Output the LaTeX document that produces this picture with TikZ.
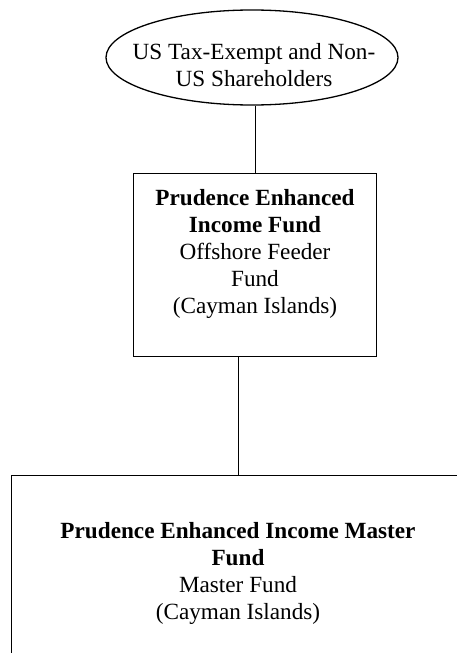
\documentclass[tikz,border=0pt]{standalone}
\usepackage{fontspec}
\setmainfont{Liberation Serif}
\usetikzlibrary{shapes.geometric}
\begin{document}
\begin{tikzpicture}[x=1pt,y=-1pt,
  ln/.style={line width=1.3pt,black},
  boxshape/.style={draw,ln,rectangle,inner sep=0pt,anchor=north west},
  txt/.style={align=center,inner sep=0pt,anchor=north,font=\fontsize{23.2}{27}\selectfont}]
\clip (0,0) rectangle (457,653);
\fill[white] (0,0) rectangle (457,653);
% ellipse
\node[draw,ln,ellipse,inner sep=0pt,minimum width=292pt,minimum height=95pt] (ell) at (252,57.5) {};
\node[txt] (elltxt) at (254,43.5) {US Tax-Exempt and Non-\\US Shareholders};
% middle box
\node[boxshape,minimum width=243pt,minimum height=183pt] (mid) at (133,173) {};
\node[txt] (midtxt) at (255,189.5) {\textbf{Prudence Enhanced}\\\textbf{Income Fund}\\Offshore Feeder\\Fund\\(Cayman Islands)};
% bottom box
\node[boxshape,minimum width=454pt,minimum height=260pt] (bot) at (11,475) {};
\node[txt] (bottxt) at (238,522.5) {\textbf{Prudence Enhanced Income Master}\\\textbf{Fund}\\Master Fund\\(Cayman Islands)};
% connectors
\draw[ln] (ell.south -| mid.north) -- (mid.north);
\draw[ln] (bot.north |- mid.south) -- (bot.north);
\end{tikzpicture}
\end{document}
